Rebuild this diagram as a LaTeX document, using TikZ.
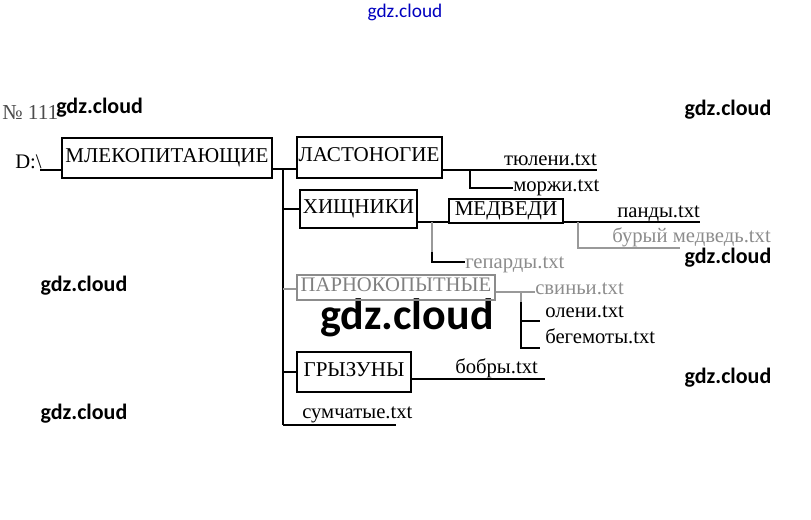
\documentclass[tikz,border=0pt]{standalone}
\usepackage{fontspec}
\setmainfont{Liberation Serif}
\newfontfamily\wmfont{Carlito}
\begin{document}
\begin{tikzpicture}[x=0.75pt,y=-0.75pt,
  box/.style={draw=black,line width=1.5pt,inner sep=0pt,text height=0.66em,text depth=0pt,font=\fontsize{15.8}{15.8}\selectfont},
  fbox/.style={draw=black!45,line width=1.5pt,inner sep=0pt,text height=0.66em,text depth=0pt,text=black!50,font=\fontsize{15.5}{15.5}\selectfont},
  file/.style={inner sep=0pt,font=\fontsize{15.5}{15.5}\selectfont},
  ffile/.style={file,text=black!45},
  wire/.style={line width=1.6pt},
  fwire/.style={line width=1.4pt,draw=black!40},
  wm/.style={inner sep=0pt,font=\wmfont\bfseries\fontsize{16.5}{16.5}\selectfont},
  ]
\useasboundingbox (0,0) rectangle (811,520);
% watermarks
\node[inner sep=0pt,text=blue!75!black,font=\wmfont\fontsize{14.5}{14.5}\selectfont] (w0) at (405,12) {gdz.cloud};
\node[wm,anchor=west] (w1) at (56,108) {gdz.cloud};
\node[wm] (w2) at (728,110) {gdz.cloud};
\node[wm] (w3) at (728,258) {gdz.cloud};
\node[wm] (w4) at (84,286) {gdz.cloud};
\node[wm,font=\wmfont\bfseries\fontsize{33}{33}\selectfont] (w5) at (407,318) {gdz.cloud};
\node[wm] (w6) at (728,378) {gdz.cloud};
\node[wm] (w7) at (84,414) {gdz.cloud};
% labels
\node[inner sep=0pt,anchor=west,text=black!70,font=\fontsize{16}{16}\selectfont] (no) at (2,112) {№ 111};
\node[inner sep=0pt,anchor=base west,font=\fontsize{15.5}{15.5}\selectfont] (d) at (15,169) {D:\textbackslash};
% boxes
\node[box,minimum width=0.75*210pt,minimum height=0.75*40pt] (m) at (167,158) {МЛЕКОПИТАЮЩИЕ};
\node[box,minimum width=0.75*145pt,minimum height=0.75*41pt] (l) at (369,157.5) {ЛАСТОНОГИЕ};
\node[box,minimum width=0.75*117pt,minimum height=0.75*38pt] (h) at (358.5,209) {ХИЩНИКИ};
\node[box,minimum width=0.75*114pt,minimum height=0.75*24pt] (md) at (506,211) {МЕДВЕДИ};
\node[fbox,minimum width=0.75*198pt,minimum height=0.75*25pt] (p) at (396,287.5) {ПАРНОКОПЫТНЫЕ};
\node[box,minimum width=0.75*114pt,minimum height=0.75*40pt] (g) at (354,372) {ГРЫЗУНЫ};
% files
\node[file,anchor=base east] (t1) at (597,166) {тюлени.txt};
\node[file,anchor=base west] (t2) at (513,192) {моржи.txt};
\node[file,anchor=base west] (t3) at (617,218) {панды.txt};
\node[ffile,anchor=base west] (t4) at (612,243) {бурый медведь.txt};
\node[ffile,anchor=base west] (t5) at (465,269) {гепарды.txt};
\node[ffile,anchor=base west] (t6) at (535,295) {свиньи.txt};
\node[file,anchor=base west] (t7) at (545,318) {олени.txt};
\node[file,anchor=base west] (t8) at (545,344) {бегемоты.txt};
\node[file,anchor=base west] (t9) at (455,374) {бобры.txt};
\node[file,anchor=base west] (t10) at (302,419) {сумчатые.txt};
% junctions
\coordinate (j0) at (283,169);
\coordinate (jend) at (283,425);
\coordinate (jl) at (470,170);
\coordinate (jh) at (432,222);
\coordinate (jm) at (578,222);
\coordinate (jp) at (521,292);
% connectors
\draw[wire] (40,170) -- (m.west |- 0,170);
\draw[wire] (m.east |- j0) -- (l.west |- j0);
\draw[wire] (j0) -- (jend);
\draw[wire] (jend) -- (396,425);
\draw[wire] (j0 |- h.west) -- (h.west);
\draw[fwire] (j0 |- 0,289) -- (p.west |- 0,289);
\draw[wire] (j0 |- g.west) -- (g.west);
% ластоногие
\draw[wire] (l.east |- jl) -- (597,170);
\draw[wire] (jl) -- (470,188) -- (t2.west |- 0,188);
% хищники
\draw[wire] (h.east |- jh) -- (md.west |- jh);
\draw[wire] (md.east |- jm) -- (700,222);
\draw[fwire] (jh) -- (432,262);
\draw[wire] (432,252) -- (432,262) -- (t5.west |- 0,262);
\draw[fwire] (jm) -- (578,248) -- (680,248);
% парнокопытные
\draw[fwire] (p.east |- jp) -- (t6.west |- jp);
\draw[wire] (jp |- 0,302) -- (521,348) -- (540,348);
\draw[wire] (521,321) -- (540,321);
\draw[fwire] (jp) -- (521,302);
% грызуны
\draw[wire] (g.east |- 0,379) -- (545,379);
\end{tikzpicture}
\end{document}
